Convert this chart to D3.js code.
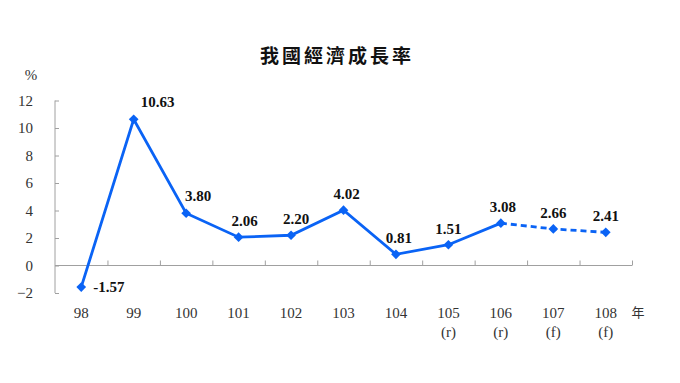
<!DOCTYPE html>
<html><head><meta charset="utf-8">
<script src="https://cdn.jsdelivr.net/npm/d3@7"></script>
<style>body{margin:0;background:#fff}</style>
</head><body>
<svg id="c" width="680" height="383"></svg>
<script>
const years = ["98","99","100","101","102","103","104","105","106","107","108"];
const subLabels = ["","","","","","","","(r)","(r)","(f)","(f)"];
const growth = [-1.57,10.63,3.80,2.06,2.20,4.02,0.81,1.51,3.08,2.66,2.41];
const valueText = ["-1.57","10.63","3.80","2.06","2.20","4.02","0.81","1.51","3.08","2.66","2.41"];
const yTicks = [-2,0,2,4,6,8,10,12];
const forecastFrom = 8; // index where dashed line starts
// label offsets (layout only)
const labelDx = [12,24,12,6,5,3,3,0,2,0,0];
const labelDy = [5,-12,-12,-11,-11,-11,-11,-11,-11,-11,-11];

(function(){
const svg = d3.select("#c");
const mLeft = 55, mRight = 632, mTop = 100.5, mBottom = 293;
const x = d3.scaleBand().domain(years).range([mLeft, mRight]);
const y = d3.scaleLinear().domain([-2, 12]).range([mBottom, mTop]);
const blue = "#0a63f5", axisCol = "#a0a0a0", txt = "#333";

svg.append("text").attr("x", 337).attr("y", 63).attr("text-anchor","middle")
  .attr("font-family","'Noto Sans CJK TC'").attr("font-weight","bold")
  .attr("font-size",19).attr("letter-spacing",3).attr("fill","#111").text("我國經濟成長率");

// y axis
const yAxis = d3.axisLeft(y).tickValues(yTicks).tickSize(-4).tickPadding(22).tickFormat(d3.format("d"));
const gy = svg.append("g").attr("transform",`translate(${mLeft},0)`).call(yAxis);
gy.select(".domain").attr("stroke",axisCol).attr("d",`M0,${mTop}V${mBottom}`);
gy.selectAll(".tick line").attr("stroke",axisCol);
gy.selectAll(".tick text").attr("font-family","'Liberation Serif'").attr("font-size",15).attr("fill",txt);
svg.append("text").attr("x",31).attr("y",80).attr("text-anchor","middle")
  .attr("font-family","'Liberation Serif'").attr("font-size",15).attr("fill",txt).text("%");

// x axis at y=0
const xAxis = d3.axisBottom(d3.scaleLinear().domain([0, years.length]).range([mLeft,mRight]))
  .tickValues(d3.range(1, years.length+1)).tickSize(-5).tickFormat("");
const gx = svg.append("g").attr("transform",`translate(0,${y(0)})`).call(xAxis);
gx.select(".domain").attr("stroke",axisCol).attr("d",`M${mLeft},0H${mRight}`);
gx.selectAll(".tick line").attr("stroke",axisCol);

// category labels
const cx = d => x(d) + x.bandwidth()/2;
svg.append("g").selectAll("text").data(years).join("text")
  .attr("x", d=>cx(d)).attr("y", 318).attr("text-anchor","middle")
  .attr("font-family","'Liberation Serif'").attr("font-size",15).attr("fill",txt).text(d=>d);
svg.append("g").selectAll("text").data(subLabels).join("text")
  .attr("x", (d,i)=>cx(years[i])).attr("y", 337).attr("text-anchor","middle")
  .attr("font-family","'Liberation Serif'").attr("font-size",15).attr("fill",txt).text(d=>d);
svg.append("text").attr("x",638).attr("y",317).attr("text-anchor","middle")
  .attr("font-family","'Noto Sans CJK TC'").attr("font-size",13).attr("fill",txt).text("年");

// lines
const pts = growth.map((v,i)=>({k:years[i], v}));
const line = d3.line().x(d=>cx(d.k)).y(d=>y(d.v));
svg.append("path").datum(pts.slice(0, forecastFrom+1)).attr("d", line)
  .attr("fill","none").attr("stroke",blue).attr("stroke-width",2.8).attr("stroke-linejoin","miter");
svg.append("path").datum(pts.slice(forecastFrom)).attr("d", line)
  .attr("fill","none").attr("stroke",blue).attr("stroke-width",2.8).attr("stroke-dasharray","6,4");

// markers
svg.append("g").selectAll("path").data(pts).join("path")
  .attr("d", d3.symbol(d3.symbolDiamond2, 60)())
  .attr("transform", d=>`translate(${cx(d.k)},${y(d.v)})`).attr("fill",blue);

// value labels
svg.append("g").selectAll("text").data(pts).join("text")
  .attr("x",(d,i)=>cx(d.k)+labelDx[i]).attr("y",(d,i)=>y(d.v)+labelDy[i])
  .attr("text-anchor",(d,i)=>i===0?"start":"middle")
  .attr("font-family","'Liberation Serif'").attr("font-weight","bold").attr("font-size",15).attr("fill","#111")
  .text((d,i)=>valueText[i]);
})();
</script>
</body></html>
